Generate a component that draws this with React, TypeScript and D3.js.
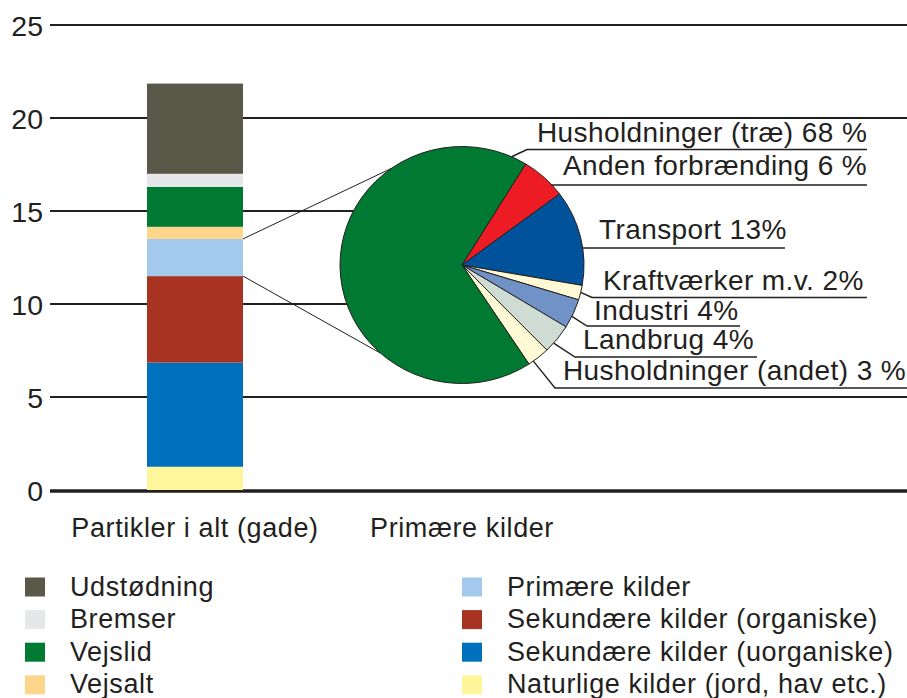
import * as d3 from 'd3'

// stablet søjle: nedefra og op
const barCategories = [
  'Naturlige kilder (jord, hav etc.)',
  'Sekundære kilder (uorganiske)',
  'Sekundære kilder (organiske)',
  'Primære kilder',
  'Vejsalt',
  'Vejslid',
  'Bremser',
  'Udstødning',
]
const barValues = [1.25, 5.6, 4.65, 2.0, 0.65, 2.15, 0.7, 4.85]
const barColors = ['#fff59a', '#0071bc', '#a83322', '#a3c9ec', '#fdd68b', '#007a33', '#e6e7e8', '#5a5849']

const xCategories = ['Partikler i alt (gade)', 'Primære kilder']
const yTicks = [0, 5, 10, 15, 20, 25]

// primære kilder fordelt
const pieLabels = [
  'Anden forbrænding 6 %',
  'Transport 13%',
  'Kraftværker m.v. 2%',
  'Industri 4%',
  'Landbrug 4%',
  'Husholdninger (andet) 3 %',
  'Husholdninger (træ) 68 %',
]
const pieValues = [6, 13, 2, 4, 4, 3, 68]
const pieColors = ['#ed1c24', '#00529b', '#fff9d6', '#7092c6', '#cfdcd3', '#fff9d6', '#007a33']

// label-placering (x, grundlinje, understregning, ankervinkel på kanten i grader)
const labelLayout = [
  { x: 563, base: 175, lineY: 185, x0: null, x1: 867, angle: 47.5 },
  { x: 599, base: 239, lineY: 248, x0: null, x1: 785, angle: 81.7 },
  { x: 603, base: 290, lineY: 297.5, x0: 592, x1: 867, angle: 103.3 },
  { x: 594, base: 320, lineY: 326, x0: 587, x1: 740, angle: 115.7 },
  { x: 583, base: 349, lineY: 357, x0: 575, x1: 757, angle: 131.3 },
  { x: 563, base: 380, lineY: 388, x0: 555, x1: 907, angle: 144.2 },
  { x: 537, base: 141.7, lineY: 149.5, x0: 527, x1: 867, angle: 24 },
]

const W = 907
const H = 698
const INK = '#231f20'
const FONT = '"Liberation Sans", Arial, Helvetica, sans-serif'

export default function App() {
  const y = d3.scaleLinear().domain([0, 25]).range([490, 25])
  const x = d3.scalePoint<string>().domain(xCategories).range([195, 462])
  const barW = 96
  const barX = (x(xCategories[0]) as number) - barW / 2

  const stack = d3.stack<number[]>()
    .keys(barCategories.map((_, i) => String(i)))
    .value((d, k) => d[+k])
  const series = stack([barValues])

  // kagediagram (let elliptisk)
  const cx = x(xCategories[1]) as number
  const cy = 265
  const rx = 122
  const ry = 118.5
  const startDeg = 31.5
  const pie = d3.pie<number>().sort(null)
    .startAngle((startDeg * Math.PI) / 180)
    .endAngle((startDeg * Math.PI) / 180 + 2 * Math.PI)
  const arcs = pie(pieValues)
  const arc = d3.arc<d3.PieArcDatum<number>>().innerRadius(0).outerRadius(1)
  const edge = (deg: number) => {
    const a = (deg * Math.PI) / 180
    return [cx + rx * Math.sin(a), cy - ry * Math.cos(a)]
  }

  const primIdx = barCategories.indexOf('Primære kilder')
  const primTop = y(series[primIdx][0][1])
  const primBot = y(series[primIdx][0][0])
  const upper = edge(324.6)
  const lower = edge(221.9)

  const legendOrder = barCategories.map((c, i) => ({ c, color: barColors[i] })).reverse()

  return (
    <svg width={W} height={H} style={{ position: 'absolute', left: 0, top: 0, background: '#fff' }}
      fontFamily={FONT} fill={INK}>
      {/* gitterlinjer */}
      {yTicks.filter(t => t > 0).map(t => (
        <line key={t} x1={50} x2={W} y1={y(t)} y2={y(t)} stroke={INK} strokeWidth={1.8} />
      ))}
      {/* hvid baggrund bag labels */}
      <rect x={cx} y={150} width={W - cx} height={238} fill="#fff" />
      <line x1={50} x2={W} y1={y(0) + 1} y2={y(0) + 1} stroke={INK} strokeWidth={3.5} />
      {yTicks.map(t => (
        <text key={t} x={43} y={y(t) + 10.5} textAnchor="end" fontSize={28.5}>{t}</text>
      ))}

      {/* søjle */}
      {series.map((s, i) => (
        <rect key={i} x={barX} width={barW} y={y(s[0][1])} height={y(s[0][0]) - y(s[0][1])}
          fill={barColors[i]} />
      ))}

      {/* forbindelseslinjer søjle -> kage */}
      <line x1={barX + barW} y1={primTop} x2={upper[0]} y2={upper[1]} stroke={INK} strokeWidth={1} />
      <line x1={barX + barW} y1={primBot} x2={lower[0]} y2={lower[1]} stroke={INK} strokeWidth={1} />

      {/* kage */}
      <g transform={`translate(${cx},${cy}) scale(${rx},${ry})`}>
        {arcs.map((a, i) => (
          <path key={i} d={arc(a) as string} fill={pieColors[i]} stroke={INK} strokeWidth={1}
            vectorEffect="non-scaling-stroke" />
        ))}
      </g>

      {/* labels med understregning */}
      {pieLabels.map((lab, i) => {
        const L = labelLayout[i]
        const p = edge(L.angle)
        const x0 = L.x0 ?? p[0]
        return (
          <g key={i}>
            <polyline points={`${p[0]},${p[1]} ${x0},${L.lineY} ${L.x1},${L.lineY}`}
              fill="none" stroke={INK} strokeWidth={1.4} />
            <text x={L.x} y={L.base} fontSize={28} style={{ letterSpacing: '0.4px' }}>{lab}</text>
          </g>
        )
      })}

      {/* x-akse tekster */}
      {xCategories.map(c => (
        <text key={c} x={x(c)} y={537} textAnchor="middle" fontSize={27}
          style={{ letterSpacing: '0.6px' }}>{c}</text>
      ))}

      {/* signatur */}
      {legendOrder.map((d, i) => {
        const col = Math.floor(i / 4)
        const row = i % 4
        const lx = col === 0 ? 25 : 462
        const ty = 577.5 + row * 32.6
        return (
          <g key={d.c}>
            <rect x={lx} y={ty} width={20} height={19} fill={d.color} />
            <text x={lx + 45} y={ty + 18} fontSize={27} style={{ letterSpacing: '0.6px' }}>{d.c}</text>
          </g>
        )
      })}
    </svg>
  )
}
